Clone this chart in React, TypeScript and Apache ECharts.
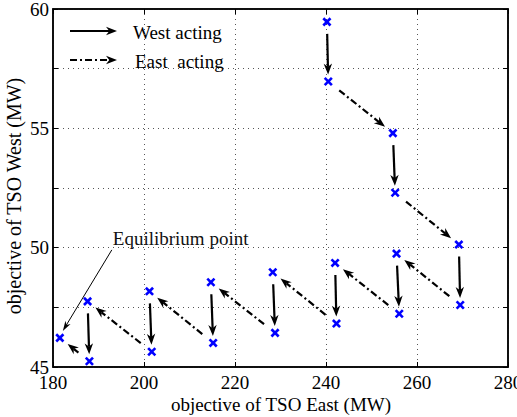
import React, { useEffect, useRef } from "react";
import * as echarts from "echarts";

// Best-response iterates of the two TSOs (MW)
const eastObjective = [
  240.2, 240.5, 254.7, 255.2, 269.2, 269.5, 255.5, 256.1, 242.0, 242.3,
  228.3, 228.8, 214.7, 215.2, 201.2, 201.7, 187.6, 188.0, 181.5,
];
const westObjective = [
  59.46, 56.96, 54.8, 52.3, 50.13, 47.6, 49.75, 47.23, 49.36, 46.82,
  48.97, 46.43, 48.55, 46.01, 48.17, 45.64, 47.75, 45.24, 46.22,
];
// Which TSO moves from iterate i to iterate i+1
const actingTso = [
  "West", "East", "West", "East", "West", "East", "West", "East", "West",
  "East", "West", "East", "West", "East", "West", "East", "West", "East",
];

const xRange = { min: 180, max: 280, interval: 20 };
const yRange = { min: 45, max: 60, interval: 2.5 };

const legendLabels = ["West acting", "East  acting"];
const xTitle = "objective of TSO East (MW)";
const yTitle = "objective of TSO West (MW)";
const equilibriumLabel = "Equilibrium point";

const FONT = "'Liberation Serif', 'DejaVu Serif', serif";
const DASH_DOT = [7, 3, 2, 3];

type Pt = [number, number];

// Barbed arrowhead polygon with its tip at `tip`, pointing along unit vector (ux, uy)
function headPoints(tip: Pt, ux: number, uy: number, len: number, half: number): Pt[] {
  const px = -uy;
  const py = ux;
  const bx = tip[0] - ux * len;
  const by = tip[1] - uy * len;
  const nx = tip[0] - ux * len * 0.7;
  const ny = tip[1] - uy * len * 0.7;
  return [
    tip,
    [bx + px * half, by + py * half],
    [nx, ny],
    [bx - px * half, by - py * half],
  ];
}

function arrowGroup(
  a: Pt,
  b: Pt,
  gapStart: number,
  gapEnd: number,
  dash: number[] | null,
  width: number
) {
  const dx = b[0] - a[0];
  const dy = b[1] - a[1];
  const d = Math.hypot(dx, dy) || 1;
  const ux = dx / d;
  const uy = dy / d;
  const s: Pt = [a[0] + ux * gapStart, a[1] + uy * gapStart];
  const t: Pt = [b[0] - ux * gapEnd, b[1] - uy * gapEnd];
  const headLen = 11;
  const lineEnd: Pt = [t[0] - ux * headLen * 0.7, t[1] - uy * headLen * 0.7];
  return {
    type: "group",
    children: [
      {
        type: "line",
        shape: { x1: s[0], y1: s[1], x2: lineEnd[0], y2: lineEnd[1] },
        style: {
          stroke: "#000",
          lineWidth: width,
          lineDash: dash || undefined,
          fill: null,
        },
      },
      {
        type: "polygon",
        shape: { points: headPoints(t, ux, uy, headLen, 4.2) },
        style: { fill: "#000", stroke: null },
      },
    ],
  };
}

export default function App() {
  const ref = useRef<HTMLDivElement>(null);

  useEffect(() => {
    if (!ref.current) return;
    const chart = echarts.init(ref.current, undefined, { renderer: "svg" });

    const points = eastObjective.map((x, i) => [x, westObjective[i]]);
    const moves = actingTso.map((who, i) => [
      eastObjective[i],
      westObjective[i],
      eastObjective[i + 1],
      westObjective[i + 1],
      who === "West" ? 0 : 1,
    ]);
    const last = points.length - 1;

    const axisLabelStyle = {
      color: "#000",
      fontFamily: FONT,
      fontSize: 19,
    };

    const option: any = {
      animation: false,
      backgroundColor: "#fff",
      grid: {
        left: 53,
        right: 9,
        top: 9,
        bottom: 50,
        outerBoundsMode: "none",
        containLabel: false,
        show: true,
        borderColor: "#000",
        borderWidth: 1.5,
        backgroundColor: "transparent",
      },
      xAxis: [
        {
          type: "value",
          ...xRange,
          axisLine: { show: true, onZero: false, lineStyle: { color: "#000", width: 1.5 } },
          axisTick: { show: true, inside: true, length: 5, lineStyle: { color: "#000" } },
          axisLabel: { ...axisLabelStyle, margin: 6, hideOverlap: false },
          splitLine: {
            show: true,
            lineStyle: { color: "#555", type: [1, 4], width: 1 },
          },
        },
        {
          type: "value",
          position: "top",
          ...xRange,
          axisLine: { show: true, onZero: false, lineStyle: { color: "#000", width: 1.5 } },
          axisTick: { show: true, inside: true, length: 5, lineStyle: { color: "#000" } },
          axisLabel: { show: false },
          splitLine: { show: false },
        },
      ],
      yAxis: [
        {
          type: "value",
          ...yRange,
          axisLine: { show: true, onZero: false, lineStyle: { color: "#000", width: 1.5 } },
          axisTick: { show: true, inside: true, length: 5, lineStyle: { color: "#000" } },
          axisLabel: {
            ...axisLabelStyle,
            margin: 4,
            formatter: (v: number) => (Math.abs(v % 5) < 1e-9 ? String(v) : ""),
          },
          splitLine: {
            show: true,
            lineStyle: { color: "#555", type: [1, 4], width: 1 },
          },
        },
        {
          type: "value",
          position: "right",
          ...yRange,
          axisLine: { show: true, onZero: false, lineStyle: { color: "#000", width: 1.5 } },
          axisTick: { show: true, inside: true, length: 5, lineStyle: { color: "#000" } },
          axisLabel: { show: false },
          splitLine: { show: false },
        },
      ],
      series: [
        {
          // moves: solid arrows for West, dash-dot arrows for East
          type: "custom",
          xAxisIndex: 0,
          yAxisIndex: 0,
          data: moves,
          encode: { x: [0, 2], y: [1, 3] },
          z: 2,
          renderItem: (_params: any, api: any) => {
            const a = api.coord([api.value(0), api.value(1)]);
            const b = api.coord([api.value(2), api.value(3)]);
            const east = api.value(4) === 1;
            return east
              ? arrowGroup(a, b, 14, 10, DASH_DOT, 2.2)
              : arrowGroup(a, b, 12, 7, null, 2.2);
          },
        },
        {
          // iterates: blue crosses
          type: "custom",
          xAxisIndex: 0,
          yAxisIndex: 0,
          data: points,
          encode: { x: 0, y: 1 },
          z: 3,
          renderItem: (_params: any, api: any) => {
            const p = api.coord([api.value(0), api.value(1)]);
            const h = 3.6;
            const st = { stroke: "#0000ff", lineWidth: 2.6, lineCap: "butt" };
            return {
              type: "group",
              children: [
                { type: "line", shape: { x1: p[0] - h, y1: p[1] - h, x2: p[0] + h, y2: p[1] + h }, style: st },
                { type: "line", shape: { x1: p[0] - h, y1: p[1] + h, x2: p[0] + h, y2: p[1] - h }, style: st },
              ],
            };
          },
        },
        {
          // equilibrium annotation anchored on the final iterate
          type: "custom",
          xAxisIndex: 0,
          yAxisIndex: 0,
          data: [points[last]],
          encode: { x: 0, y: 1 },
          z: 4,
          renderItem: (_params: any, api: any) => {
            const p = api.coord([api.value(0), api.value(1)]);
            const start: Pt = [p[0] + 52, p[1] - 88];
            const tip: Pt = [p[0] + 3, p[1] - 7];
            const dx = tip[0] - start[0];
            const dy = tip[1] - start[1];
            const d = Math.hypot(dx, dy);
            const ux = dx / d;
            const uy = dy / d;
            return {
              type: "group",
              children: [
                {
                  type: "line",
                  shape: { x1: start[0], y1: start[1], x2: tip[0] - ux * 5, y2: tip[1] - uy * 5 },
                  style: { stroke: "#000", lineWidth: 1 },
                },
                {
                  type: "polygon",
                  shape: { points: headPoints(tip, ux, uy, 10, 3) },
                  style: { fill: "#000" },
                },
                {
                  type: "text",
                  x: p[0] + 53,
                  y: p[1] - 99,
                  style: {
                    text: equilibriumLabel,
                    fontFamily: FONT,
                    fontSize: 19,
                    fill: "#111",
                    align: "left",
                    verticalAlign: "middle",
                  },
                },
              ],
            };
          },
        },
      ],
      graphic: [
        // legend
        {
          type: "line",
          shape: { x1: 70, y1: 31, x2: 110, y2: 31 },
          style: { stroke: "#000", lineWidth: 2.2 },
        },
        {
          type: "polygon",
          shape: { points: headPoints([117, 31], 1, 0, 11, 4.2) },
          style: { fill: "#000" },
        },
        {
          type: "text",
          x: 133,
          y: 32,
          style: {
            text: legendLabels[0],
            fontFamily: FONT,
            fontSize: 19,
            fill: "#000",
            align: "left",
            verticalAlign: "middle",
          },
        },
        {
          type: "line",
          shape: { x1: 70, y1: 60, x2: 110, y2: 60 },
          style: { stroke: "#000", lineWidth: 2.2, lineDash: DASH_DOT },
        },
        {
          type: "polygon",
          shape: { points: headPoints([117, 60], 1, 0, 11, 4.2) },
          style: { fill: "#000" },
        },
        {
          type: "text",
          x: 135,
          y: 61,
          style: {
            text: legendLabels[1],
            fontFamily: FONT,
            fontSize: 19,
            fill: "#000",
            align: "left",
            verticalAlign: "middle",
            whiteSpace: "pre",
          },
        },
        // axis titles
        {
          type: "text",
          x: 281,
          y: 404,
          style: {
            text: xTitle,
            fontFamily: FONT,
            fontSize: 19,
            fill: "#000",
            align: "center",
            verticalAlign: "middle",
          },
        },
        {
          type: "text",
          x: 14,
          y: 196,
          rotation: Math.PI / 2,
          style: {
            text: yTitle,
            fontFamily: FONT,
            fontSize: 20,
            fill: "#000",
            align: "center",
            verticalAlign: "middle",
          },
        },
      ],
    };

    chart.setOption(option);
    return () => chart.dispose();
  }, []);

  return <div ref={ref} style={{ width: 517, height: 417, position: "absolute", left: 0, top: 0 }} />;
}
